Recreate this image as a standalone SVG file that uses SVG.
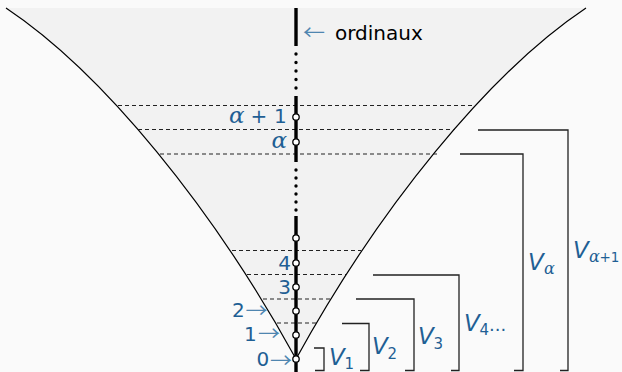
<svg xmlns="http://www.w3.org/2000/svg" width="622" height="372" viewBox="0 0 622 372">
<style>
.curve{fill:none;stroke:#000;stroke-width:1.2}
.dash{stroke:#222;stroke-width:1.1;stroke-dasharray:4 3;fill:none}
.thick{stroke:#000;stroke-width:3.4}
.dots{stroke:#000;stroke-width:3.4;stroke-linecap:round}
.pt{fill:#fff;stroke:#000;stroke-width:1.3}
.br{fill:none;stroke:#222;stroke-width:1.3}
.lbl{fill:#1f5f94;font-family:"DejaVu Sans",sans-serif}
.mi{font-family:"DejaVu Serif",serif;font-style:italic}
.vi{font-family:"DejaVu Sans",sans-serif;font-style:italic}
.arr{fill:#4f86b0;font-family:"Noto Sans CJK JP","DejaVu Sans",sans-serif;font-size:20px}
</style>
<rect width="622" height="372" fill="#fafafa"/>
<g id="cone">
<path d="M6,8 L586,8 C488.5,73 378.5,209 296,359 C213.5,209 103.5,73 6,8 Z" fill="#f2f2f2"/>
<path class="curve" d="M586,8 C488.5,73 378.5,209 296,359 C213.5,209 103.5,73 6,8"/>
</g>
<g id="connectors">
<line class="dash" x1="118" y1="105.5" x2="474" y2="105.5"/>
<line class="dash" x1="138" y1="129.5" x2="455" y2="129.5"/>
<line class="dash" x1="160" y1="154" x2="437" y2="154"/>
<line class="dash" x1="232" y1="250.5" x2="361" y2="250.5"/>
<line class="dash" x1="247" y1="274.5" x2="346" y2="274.5"/>
<line class="dash" x1="263" y1="299" x2="330" y2="299"/>
<line class="dash" x1="277" y1="323" x2="316" y2="323"/>
</g>
<g id="ordinal-axis">
<line class="thick" x1="296" y1="8" x2="296" y2="46"/>
<line class="dots" x1="296" y1="54" x2="296" y2="88.5" stroke-dasharray="0 8.5"/>
<line class="thick" x1="296" y1="96" x2="296" y2="162"/>
<line class="dots" x1="296" y1="170" x2="296" y2="210.5" stroke-dasharray="0 8"/>
<line class="thick" x1="296" y1="216" x2="296" y2="372"/>
</g>
<g id="ordinaux-label">
<text class="arr" transform="translate(303,40) scale(1.1,1)">←</text>
<text x="335" y="40" font-family="DejaVu Sans,sans-serif" font-size="20" fill="#000">ordinaux</text>
</g>
<g id="node-alpha1">
<circle class="pt" cx="296" cy="117" r="3.2"/>
<text class="lbl" y="123" font-size="20"><tspan class="mi" x="229" font-size="23">α</tspan><tspan x="244.2"> +</tspan><tspan x="267.7"> 1</tspan></text>
</g>
<g id="node-alpha">
<circle class="pt" cx="296" cy="142" r="3.2"/>
<text class="lbl mi" x="271.5" y="147.5" font-size="23">α</text>
</g>
<g id="node-5"><circle class="pt" cx="296" cy="238" r="3.2"/></g>
<g id="node-4">
<circle class="pt" cx="296" cy="263" r="3.2"/>
<text class="lbl" x="291" y="269.5" font-size="20" text-anchor="end">4</text>
</g>
<g id="node-3">
<circle class="pt" cx="296" cy="287" r="3.2"/>
<text class="lbl" x="291" y="294" font-size="20" text-anchor="end">3</text>
</g>
<g id="node-2">
<circle class="pt" cx="296" cy="311" r="3.2"/>
<text class="lbl" x="232" y="317" font-size="20">2</text>
<text class="arr" transform="translate(245.5,318.2) scale(1.1,1)">→</text>
</g>
<g id="node-1">
<circle class="pt" cx="296" cy="335" r="3.2"/>
<text class="lbl" x="244" y="341.2" font-size="20">1</text>
<text class="arr" transform="translate(258,341.2) scale(1.1,1)">→</text>
</g>
<g id="node-0">
<circle class="pt" cx="296" cy="359" r="3.2"/>
<text class="lbl" x="256.5" y="366" font-size="20">0</text>
<text class="arr" transform="translate(270,367.6) scale(1.1,1)">→</text>
</g>
<g id="bracket-V1">
<path class="br" d="M314,348 H324 V370.5 H315"/>
<text class="lbl vi" x="329" y="365" font-size="23">V<tspan x="344.5" y="369" font-size="15" font-style="normal">1</tspan></text>
</g>
<g id="bracket-V2">
<path class="br" d="M342,323.5 H369 V370.5 H360"/>
<text class="lbl vi" x="372" y="353.5" font-size="23">V<tspan x="387.5" y="358.5" font-size="15" font-style="normal">2</tspan></text>
</g>
<g id="bracket-V3">
<path class="br" d="M356,299 H414 V370.5 H405"/>
<text class="lbl vi" x="418" y="343.5" font-size="23">V<tspan x="433.5" y="348.5" font-size="15" font-style="normal">3</tspan></text>
</g>
<g id="bracket-V4">
<path class="br" d="M373,275 H459 V370.5 H451"/>
<text class="lbl vi" x="464" y="330.5" font-size="23">V<tspan x="479.5" y="334.5" font-size="15" font-style="normal">4</tspan><tspan x="489" y="330.5" font-size="18" font-style="normal">...</tspan></text>
</g>
<g id="bracket-Valpha">
<path class="br" d="M460,154 H523 V370.5 H514"/>
<text class="lbl vi" x="528" y="269.5" font-size="23">V<tspan class="mi" x="544" y="273.5" font-size="16">α</tspan></text>
</g>
<g id="bracket-Valpha1">
<path class="br" d="M478,130 H568 V370.5 H560"/>
<text class="lbl vi" x="573" y="257.5" font-size="23">V<tspan class="mi" x="589" y="261.5" font-size="16">α</tspan><tspan x="599.5" y="261.5" font-size="13.5" font-style="normal">+1</tspan></text>
</g>
</svg>
